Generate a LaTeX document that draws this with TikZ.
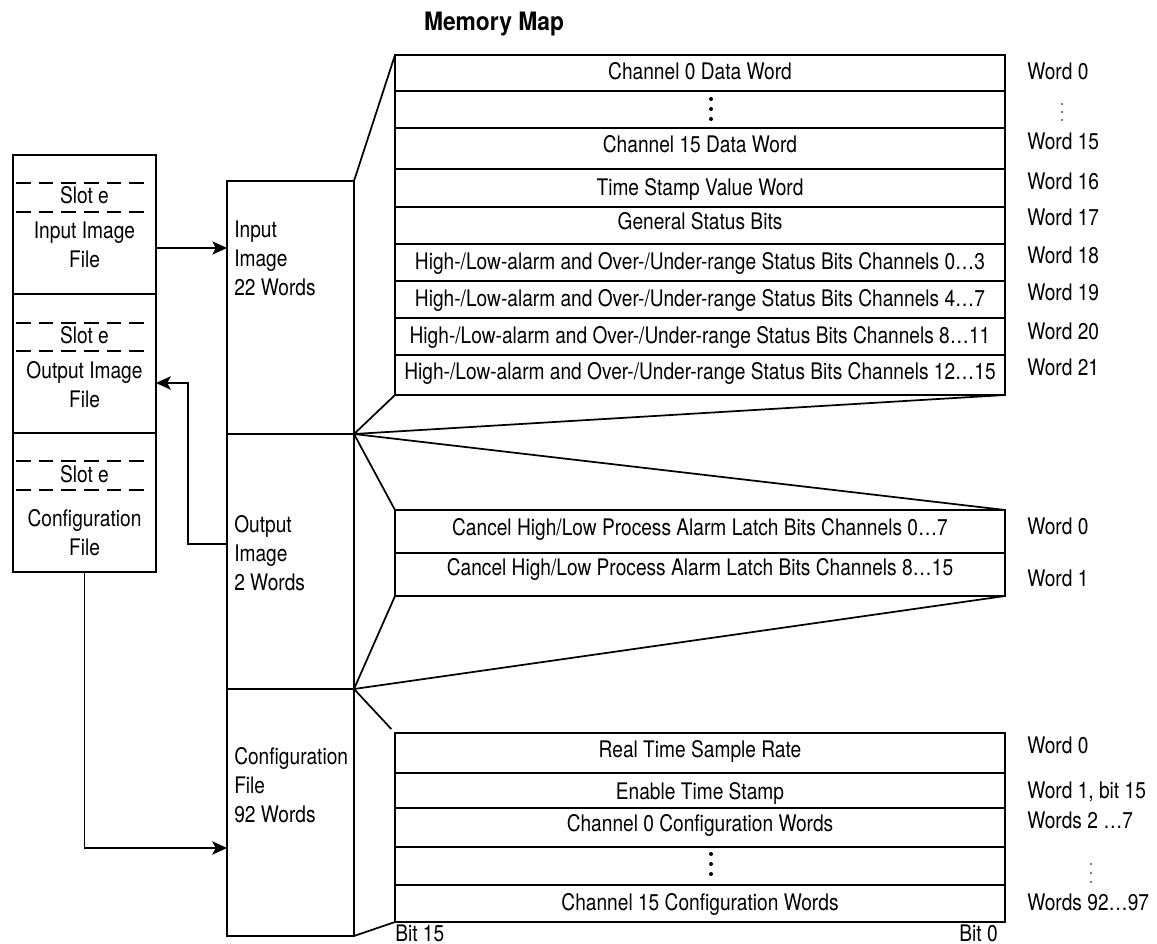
\documentclass[tikz,border=0pt]{standalone}
\usepackage{fontspec}
\setmainfont{TeX Gyre Heros}[FakeStretch=0.84]
\newfontfamily\titlefont{TeX Gyre Heros}[FakeStretch=0.9]
\usetikzlibrary{fit,arrows.meta}

\begin{document}
\begin{tikzpicture}[x=0.75pt,y=0.75pt,yscale=-1,xscale=1,
    box/.style={draw, line width=1.6pt, inner sep=0pt, outer sep=0pt},
    rowline/.style={line width=1.5pt},
    funnel/.style={line width=1.3pt},
    slotline/.style={line width=1.4pt, dash pattern={on 11pt off 6pt}},
    flow/.style={line width=1.3pt, -{Stealth[length=11pt,width=10pt,inset=2.5pt]}},
    txt/.style={inner sep=0pt, font=\fontsize{17.1}{21.75}\selectfont},
    wordlbl/.style={txt, anchor=base west}]
\useasboundingbox (0,0) rectangle (1157,944);

% Text Node
\node [inner sep=0pt, anchor=base, font=\titlefont\bfseries\fontsize{19}{22}\selectfont] (title) at (494,31) {Memory Map};

%Shape: left file column
\node [box, fit={(13,155) (156,294)}] (infile) {};
\node [box, fit={(13,294) (156,433)}] (outfile) {};
\node [box, fit={(13,433) (156,572)}] (cfgfile) {};
\draw [slotline] (16,183) -- (150,183) ;
\draw [slotline] (16,212) -- (150,212) ;
\draw [slotline] (16,323) -- (150,323) ;
\draw [slotline] (16,351) -- (150,351) ;
\draw [slotline] (16,461) -- (150,461) ;
\draw [slotline] (16,490) -- (150,490) ;
% Text Node
\node [txt, anchor=base] (slotin) at (84.5,204) {Slot e};
\node [txt, anchor=north, align=center] (infilelbl) at (84.5,222) {Input Image\\File};
\node [txt, anchor=base] (slotout) at (84.5,344) {Slot e};
\node [txt, anchor=north, align=center] (outfilelbl) at (84.5,361) {Output Image\\File};
\node [txt, anchor=base] (slotcfg) at (84.5,483) {Slot e};
\node [txt, anchor=north, align=center] (cfgfilelbl) at (84.5,509) {Configuration\\File};

%Shape: middle image column
\node [box, fit={(227,181) (354,434)}] (inimage) {};
\node [box, fit={(227,434) (354,689)}] (outimage) {};
\node [box, fit={(227,689) (354,936)}] (cfgimage) {};
% Text Node
\node [txt, anchor=north west, align=left] (inimagelbl) at (234,221) {Input\\Image\\22 Words};
\node [txt, anchor=north west, align=left] (outimagelbl) at (234,515) {Output\\Image\\2 Words};
\node [txt, anchor=north west, align=left] (cfgimagelbl) at (234,747) {Configuration\\File\\92 Words};

%Shape: input image table
\node [box, fit={(395,55) (1005,395)}] (intbl) {};
\draw [rowline] (intbl.west |- 0,91) -- (intbl.east |- 0,91) ;
\draw [rowline] (intbl.west |- 0,128) -- (intbl.east |- 0,128) ;
\draw [rowline] (intbl.west |- 0,169) -- (intbl.east |- 0,169) ;
\draw [rowline] (intbl.west |- 0,207) -- (intbl.east |- 0,207) ;
\draw [rowline] (intbl.west |- 0,244) -- (intbl.east |- 0,244) ;
\draw [rowline] (intbl.west |- 0,281) -- (intbl.east |- 0,281) ;
\draw [rowline] (intbl.west |- 0,318) -- (intbl.east |- 0,318) ;
\draw [rowline] (intbl.west |- 0,355) -- (intbl.east |- 0,355) ;
\fill (711,99) circle (2) (711,109) circle (2) (711,119) circle (2) ;
% Text Node
\node [txt, anchor=base] (ch0data) at (700,80) {Channel 0 Data Word};
\node [txt, anchor=base] (ch15data) at (700,153) {Channel 15 Data Word};
\node [txt, anchor=base] (tstamp) at (700,196) {Time Stamp Value Word};
\node [txt, anchor=base] (genstat) at (700,230) {General Status Bits};
\node [txt, anchor=base] (alarm03) at (700,270) {High-/Low-alarm and Over-/Under-range Status Bits Channels 0…3};
\node [txt, anchor=base] (alarm47) at (700,307) {High-/Low-alarm and Over-/Under-range Status Bits Channels 4…7};
\node [txt, anchor=base] (alarm811) at (700,344) {High-/Low-alarm and Over-/Under-range Status Bits Channels 8…11};
\node [txt, anchor=base] (alarm1215) at (700,380) {High-/Low-alarm and Over-/Under-range Status Bits Channels 12…15};
\node [wordlbl] (inw0) at (1027,80) {Word 0};
\fill (1062,104) circle (0.9) (1062,112) circle (0.9) (1062,120) circle (0.9) ;
\node [wordlbl] (inw15) at (1027,150) {Word 15};
\node [wordlbl] (inw16) at (1027,190) {Word 16};
\node [wordlbl] (inw17) at (1027,226) {Word 17};
\node [wordlbl] (inw18) at (1027,264) {Word 18};
\node [wordlbl] (inw19) at (1027,301) {Word 19};
\node [wordlbl] (inw20) at (1027,340) {Word 20};
\node [wordlbl] (inw21) at (1027,376) {Word 21};

%Shape: output image table
\node [box, fit={(395,510) (1005,596)}] (outtbl) {};
\draw [rowline] (outtbl.west |- 0,553) -- (outtbl.east |- 0,553) ;
% Text Node
\node [txt, anchor=base] (cancel07) at (700,536) {Cancel High/Low Process Alarm Latch Bits Channels 0…7};
\node [txt, anchor=base] (cancel815) at (700,576) {Cancel High/Low Process Alarm Latch Bits Channels 8…15};
\node [wordlbl] (outw0) at (1027,535) {Word 0};
\node [wordlbl] (outw1) at (1027,586) {Word 1};

%Shape: configuration table
\node [box, fit={(395,733) (1005,922)}] (cfgtbl) {};
\draw [rowline] (cfgtbl.west |- 0,773) -- (cfgtbl.east |- 0,773) ;
\draw [rowline] (cfgtbl.west |- 0,808) -- (cfgtbl.east |- 0,808) ;
\draw [rowline] (cfgtbl.west |- 0,847) -- (cfgtbl.east |- 0,847) ;
\draw [rowline] (cfgtbl.west |- 0,885) -- (cfgtbl.east |- 0,885) ;
\fill (711,854) circle (2) (711,864) circle (2) (711,874) circle (2) ;
% Text Node
\node [txt, anchor=base] (samplerate) at (700,757) {Real Time Sample Rate};
\node [txt, anchor=base] (enablets) at (700,799) {Enable Time Stamp};
\node [txt, anchor=base] (ch0cfg) at (700,831) {Channel 0 Configuration Words};
\node [txt, anchor=base] (ch15cfg) at (700,910) {Channel 15 Configuration Words};
\node [wordlbl] (cfgw0) at (1027,753) {Word 0};
\node [wordlbl] (cfgw1) at (1027,798) {Word 1, bit 15};
\node [wordlbl] (cfgw27) at (1027,828) {Words 2 …7};
\fill (1091,864) circle (0.9) (1091,873) circle (0.9) (1091,882) circle (0.9) ;
\node [wordlbl] (cfgw9297) at (1027,910) {Words 92…97};
\node [txt, anchor=base west] (bit15) at (395,941) {Bit 15};
\node [txt, anchor=base east] (bit0) at (998,941) {Bit 0};

%Connectors: funnel lines
\draw [funnel] (inimage.north east) -- (intbl.north west) ;
\draw [funnel] (intbl.south west) -- (inimage.south east) -- (intbl.south east) ;
\draw [funnel] (outtbl.north east) -- (outimage.north east) -- (outtbl.north west) ;
\draw [funnel] (outtbl.south west) -- (outimage.south east) -- (outtbl.south east) ;
\draw [funnel, shorten >=4pt] (cfgimage.north east) -- (cfgtbl.north west) ;
\draw [funnel] (cfgimage.south east) -- (cfgtbl.south west) ;

%Connectors: arrows
\coordinate (iny) at (0,248) ;
\coordinate (outy) at (0,544) ;
\coordinate (bendout) at (188,383) ;
\coordinate (cfgy) at (0,848) ;
\draw [flow, line width=0.8pt] (infile.east |- iny) -- (inimage.west |- iny) ;
\draw [flow] (outimage.west |- outy) -| (bendout) -- (outfile.east |- bendout) ;
\draw [flow] (cfgfile.south) |- (cfgimage.west |- cfgy) ;

\end{tikzpicture}
\end{document}
